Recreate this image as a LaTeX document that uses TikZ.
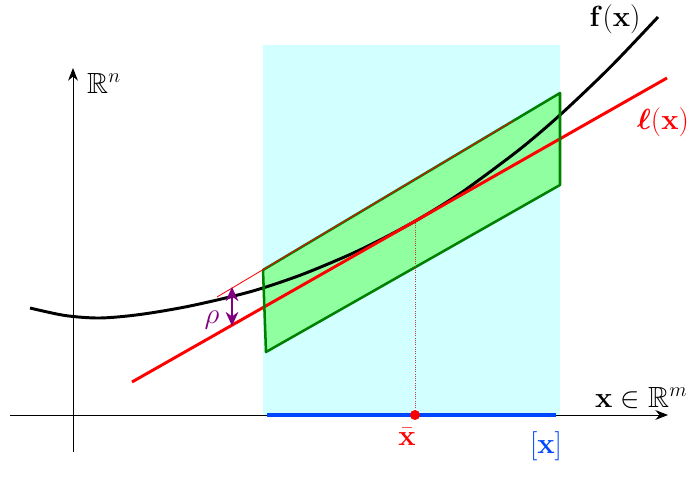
\documentclass[tikz,border=0pt]{standalone}
\usepackage{amsmath,amssymb,bm}
\usetikzlibrary{arrows.meta,positioning}
\definecolor{boxcyan}{RGB}{210,255,255}
\definecolor{boxgreen}{RGB}{144,255,160}
\definecolor{boxdgreen}{RGB}{0,128,0}
\definecolor{segblue}{RGB}{0,70,255}
\definecolor{rhopurple}{RGB}{128,0,128}

\begin{document}
\begin{tikzpicture}[x=0.025cm,y=-0.025cm,font=\huge,
  axis/.style={line width=0.6pt,-{Stealth[length=9pt,width=7pt]}},
  curve/.style={line width=2.1pt}]
\useasboundingbox (0,0) rectangle (691,485);
% boite [x] x R^n
\fill[boxcyan] (263,45) rectangle (560,415);
% axes
\coordinate (xa0) at (10,415);  \coordinate (xa1) at (668,415);
\coordinate (ya0) at (73,452);  \coordinate (ya1) at (73,68);
\draw[axis] (xa0) -- (xa1);
\draw[axis] (ya0) -- (ya1);
% intervalle [x]
\coordinate (xlo) at (267,415); \coordinate (xhi) at (556,415);
\draw[segblue,line width=3.5pt] (xlo) -- (xhi);
% parallelogramme
\coordinate (p1) at (263,270); \coordinate (p2) at (560,93);
\coordinate (p3) at (560,185); \coordinate (p4) at (266,352);
\fill[boxgreen] (p1) -- (p2) -- (p3) -- (p4) -- cycle;
% f(x) et l(x)
\draw[curve] plot[smooth,tension=0.5] coordinates {(30,308) (65,315.5) (100,318) (140,314.5)
  (190,306) (250,291.8) (300,275.3) (350,254.5) (385,237.4) (415,221.2) (445,203.2)
  (470,186.5) (520,149.1) (560,115) (610,67.4) (658,17)};
\coordinate (l0) at (132,382); \coordinate (l1) at (667,78);
\draw[curve,red] (l0) -- (l1);
\draw[boxdgreen,line width=1.8pt,line join=round] (p1) -- (p2) -- (p3) -- (p4) -- cycle;
\coordinate (u0) at (217,297); \coordinate (u1) at (513,121);
\draw[red,line width=0.6pt] (u0) -- (u1);
% point xbar
\coordinate (xb) at (415,415); \coordinate (xbtop) at (415,222);
\draw[red!50!gray,densely dotted,line width=0.6pt] (xb) -- (xbtop);
\fill[red] (xb) circle (5);
% rho
\coordinate (r0) at (232,287); \coordinate (r1) at (232,326);
\draw[rhopurple,line width=1.5pt,{Stealth[length=10pt,width=9pt]}-{Stealth[length=10pt,width=9pt]}] (r0) -- (r1);
% labels
\node (flab) at (615,19) {$\mathbf{f}(\mathbf{x})$};
\node[text=red] (llab) at (663,122) {$\boldsymbol{\ell}(\mathbf{x})$};
\node (rn) at (104,83) {$\mathbb{R}^n$};
\node[anchor=east,inner sep=1pt] (rm) at (689,398) {$\mathbf{x}\in\mathbb{R}^m$};
\node[text=red] (xblab) at (407,437) {$\bar{\mathbf{x}}$};
\node[text=segblue] (xlab) at (546,446) {$[\mathbf{x}]$};
\node[text=rhopurple] (rholab) at (212,320) {$\rho$};
\end{tikzpicture}
\end{document}
